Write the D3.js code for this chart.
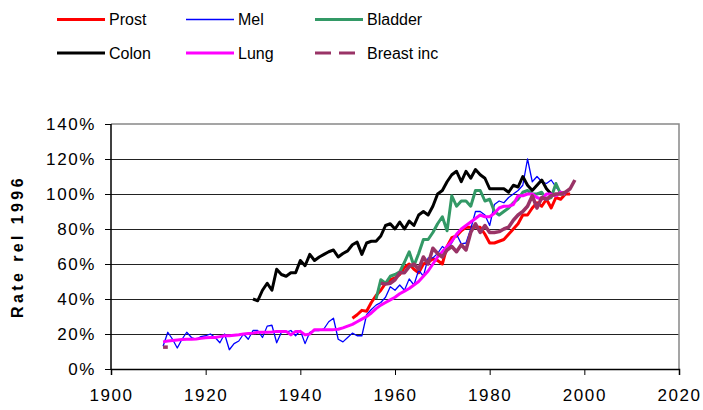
<!DOCTYPE html>
<html>
<head>
<meta charset="utf-8">
<script src="https://cdn.jsdelivr.net/npm/d3@7/dist/d3.min.js"></script>
<style>
  body { margin: 0; background: #fff; }
  text { font-family: Arial, "Liberation Sans", sans-serif; }
</style>
</head>
<body>
<div id="viz"></div>
<script>
// rates relative to 1996, in percent, one value per year from the start year
var prostStart = 1951;
var prost = [29, 31, 33.5, 33, 38, 42, 45, 49, 51, 52,
  54, 58, 60, 57, 55, 60, 61, 63, 62, 60,
  70, 75, 76, 79, 81, 81, 81, 81, 77, 72,
  72, 73, 74, 77, 80, 83, 88, 88, 92, 95,
  93, 97, 92, 98, 97, 100, 100];

var melStart = 1911;
var mel = [13, 21, 17, 12, 17, 21, 18, 17, 18.5, 19,
  20, 18, 15, 20, 11, 14.5, 16, 20, 17, 22,
  22, 18, 24.5, 25, 15, 21, 21, 22, 19, 22,
  14.5, 21, 22, 22, 23, 27, 29, 17, 15.5, 18,
  20.5, 19, 19, 31, 34, 36.5, 38, 41, 47, 45,
  48, 45, 51.5, 48, 56.5, 53, 63.5, 63.5, 66, 70,
  68, 72, 77, 71.5, 72, 80, 90, 90, 88, 82,
  94, 96, 95, 98, 100, 102, 105, 120, 107, 110,
  107, 106, 108, 104, 101, 100];

var bladderStart = 1956;
var bladder = [40, 51, 49, 53, 54, 55.5, 61, 67, 59,
  66, 74, 74, 78, 83, 87, 79, 99, 93, 96,
  96, 93, 102, 102, 96, 97, 90, 88, 90, 92,
  95, 97, 101, 102, 100, 100, 101, 97, 98, 106,
  100, 100];

var colonStart = 1930;
var colon = [40, 39, 45, 49, 45, 57, 54, 53, 55, 55,
  62, 59, 65.5, 62, 64, 65.5, 67, 68, 64, 66,
  67.5, 71, 72.5, 65.5, 72, 73, 73, 76, 82, 83,
  80, 84, 80, 84.5, 82, 88, 90, 88, 93, 100,
  102, 107, 111, 113, 107, 113, 109, 114, 111, 109,
  103, 103, 103, 103, 101, 105, 104, 110, 105, 102,
  105, 108, 103, 100];

var lungStart = 1911;
var lung = [15.5, 16, 16.3, 16.6, 16.8, 17, 17, 17.2, 17.5, 17.8,
  18, 18, 18.5, 19, 19, 19.3, 19.6, 20, 20.3, 20.5,
  21, 21, 21, 21.2, 21.5, 21.5, 21.5, 19.5, 21.5, 21.5,
  19.5, 20, 22.5, 22.5, 22.5, 22.5, 22.5, 22.7, 23.5, 24.5,
  25.5, 27, 28.5, 30, 32, 34.5, 36.5, 38, 39.5, 41,
  43, 44.5, 46, 48, 50, 53, 56, 60, 64, 67,
  70, 73, 77, 80, 82, 84, 86, 88, 87, 87,
  89, 92, 93, 93, 94, 99, 99, 100, 100, 98,
  97, 100, 100, 99, 101, 100];

var breastEarlyStart = 1911;
var breastEarly = [12.5, 12.5];
var breastStart = 1957;
var breast = [49, 48.5, 49, 51, 55, 55, 58.5, 60, 57, 64,
  60, 69, 66, 64, 68, 70, 67, 71, 68, 78,
  83, 78, 82, 78, 78, 78.5, 80, 81, 85, 88,
  90, 93, 99, 92, 98, 97, 99, 100, 100, 101,
  103, 108];

var xTicks = [1900, 1920, 1940, 1960, 1980, 2000, 2020];
var yTicks = [0, 20, 40, 60, 80, 100, 120, 140];

var margin = { top: 124, right: 24, bottom: 41, left: 111 },
  width = 703 - margin.left - margin.right,
  height = 410 - margin.top - margin.bottom;

function pts(start, vals) {
  return vals.map(function(v, i) { return [start + i, v]; });
}

var series = [
  { name: "Prost", color: "#ff0000", w: 3, parts: [pts(prostStart, prost)] },
  { name: "Mel", color: "#0000ff", w: 1.3, parts: [pts(melStart, mel)] },
  { name: "Bladder", color: "#339966", w: 3, parts: [pts(bladderStart, bladder)] },
  { name: "Colon", color: "#000000", w: 3, parts: [pts(colonStart, colon)] },
  { name: "Lung", color: "#ff00ff", w: 3, parts: [pts(lungStart, lung)] },
  { name: "Breast inc", color: "#993366", w: 3.5, dash: "16,8",
    parts: [pts(breastEarlyStart, breastEarly), pts(breastStart, breast)] }
];

var xScale = d3.scaleLinear().domain([1900, 2020]).range([0, width]);
var yScale = d3.scaleLinear().domain([0, 140]).range([height, 0]);

var svg = d3.select('#viz').append('svg')
  .attr('width', 703)
  .attr('height', 410);

var g = svg.append('g')
  .attr('transform', 'translate(' + margin.left + ',' + margin.top + ')');

// gridlines
g.selectAll('line.grid').data(yTicks.filter(function(d) { return d > 0 && d < 140; }))
  .enter().append('line')
  .attr('class', 'grid')
  .attr('x1', 0).attr('x2', width)
  .attr('y1', function(d) { return Math.round(yScale(d)) + 0.5; })
  .attr('y2', function(d) { return Math.round(yScale(d)) + 0.5; })
  .attr('stroke', '#222')
  .attr('stroke-width', 1);

// gray top and right frame
g.append('path')
  .attr('d', 'M0,' + yScale(140) + 'H' + width + 'V' + height)
  .attr('fill', 'none')
  .attr('stroke', '#888')
  .attr('stroke-width', 1.5);

var line = d3.line()
  .x(function(d) { return xScale(d[0]); })
  .y(function(d) { return yScale(d[1]); });

series.forEach(function(s) {
  s.parts.forEach(function(p) {
    g.append('path')
      .datum(p)
      .attr('d', line)
      .attr('fill', 'none')
      .attr('stroke', s.color)
      .attr('stroke-width', s.w)
      .attr('stroke-linejoin', 'round');
  });
});

var yAxis = d3.axisLeft(yScale)
  .tickValues(yTicks)
  .tickSize(6)
  .tickPadding(9)
  .tickFormat(function(d) { return d + '%'; });

var xAxis = d3.axisBottom(xScale)
  .tickValues(xTicks)
  .tickSize(6)
  .tickPadding(14)
  .tickFormat(d3.format('d'));

var yG = g.append('g').call(yAxis);
var xG = g.append('g').attr('transform', 'translate(0,' + height + ')').call(xAxis);

[yG, xG].forEach(function(a) {
  a.select('.domain').attr('stroke', '#000').attr('stroke-width', 1.5);
  a.selectAll('.tick line').attr('stroke', '#000').attr('stroke-width', 1);
  a.selectAll('.tick text')
    .style('font-size', '17px')
    .style('letter-spacing', '1.6px')
    .style('font-family', 'Arial, "Liberation Sans", sans-serif')
    .attr('fill', '#000');
});
yG.select('.domain').attr('d', 'M-6,0H0V' + height + 'H-6').attr('d', 'M0,0V' + height);

svg.append('text')
  .attr('transform', 'translate(23,' + (margin.top + height / 2) + ') rotate(-90)')
  .attr('text-anchor', 'middle')
  .style('font-size', '16px')
  .style('font-weight', 'bold')
  .style('letter-spacing', '3.4px')
  .text('Rate rel 1996');

// legend, two rows of three
var legend = svg.append('g');
var legX = [57, 186, 315], legY = [19.5, 53];
series.forEach(function(s, i) {
  var lx = legX[i % 3], ly = legY[Math.floor(i / 3)];
  legend.append('line')
    .attr('x1', lx).attr('x2', lx + 48)
    .attr('y1', ly).attr('y2', ly)
    .attr('stroke', s.color)
    .attr('stroke-width', s.w === 1.3 ? 1.5 : 3)
    .attr('stroke-dasharray', s.dash || null);
  legend.append('text')
    .attr('x', lx + 52).attr('y', ly)
    .attr('dy', '0.36em')
    .style('font-size', '16px')
    .text(s.name);
});
</script>
</body>
</html>
